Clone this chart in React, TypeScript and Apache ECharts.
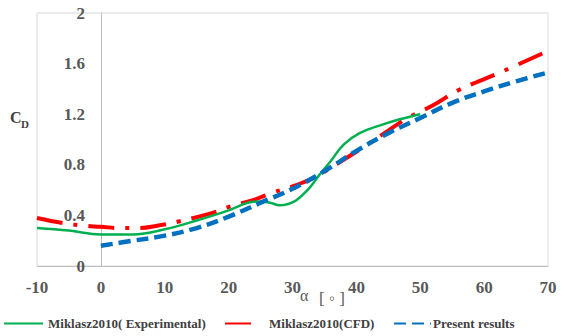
import React, { useEffect, useRef } from "react";
import * as echarts from "echarts";

const seriesNames = ["Miklasz2010( Experimental)", "Miklasz2010(CFD)", "Present results"];

const expAlpha = [-10, -5, 0, 5, 10, 15, 20, 23, 25, 26.5, 28, 29.3, 30.6, 32.7, 34.2, 36, 38, 40.5, 43.6, 46.8, 50];
const expCd = [0.30, 0.28, 0.25, 0.25, 0.29, 0.36, 0.44, 0.50, 0.51, 0.50, 0.48, 0.49, 0.52, 0.62, 0.72, 0.83, 0.96, 1.05, 1.11, 1.16, 1.20];

const cfdAlpha = [-10, -6, -3, 0, 3, 6, 9, 12, 17.5, 20.2, 23.8, 26.9, 30.6, 33.8, 38, 40.5, 44.7, 48, 52, 56, 62.5, 70];
const cfdCd = [0.38, 0.34, 0.32, 0.31, 0.30, 0.30, 0.32, 0.35, 0.42, 0.47, 0.52, 0.58, 0.64, 0.71, 0.84, 0.92, 1.06, 1.17, 1.27, 1.39, 1.53, 1.70];

const presAlpha = [0, 5, 10, 15, 20, 25, 30, 35, 40, 45, 50, 55, 60, 65, 70];
const presCd = [0.16, 0.20, 0.24, 0.30, 0.39, 0.50, 0.61, 0.75, 0.91, 1.05, 1.17, 1.29, 1.38, 1.46, 1.53];

const xTicks = { min: -10, max: 70, interval: 10 };
const yTicks = { min: 0, max: 2, interval: 0.4 };

const zip = (xs: number[], ys: number[]) => xs.map((x, i) => [x, ys[i]]);

export default function App() {
  const ref = useRef<HTMLDivElement>(null);
  useEffect(() => {
    if (!ref.current) return;
    const chart = echarts.init(ref.current, null, { renderer: "svg" });
    const serif = "'Liberation Serif', 'Times New Roman', serif";
    const legendText = { fontFamily: serif, fontWeight: "bold" as const, fontSize: 13, color: "#404040" };
    const legendBase = {
      top: 317,
      itemHeight: 14,
      itemGap: 0,
      padding: 0,
      itemStyle: { opacity: 0 },
    };
    chart.setOption({
      animation: false,
      backgroundColor: "#ffffff",
      grid: {
        left: 37,
        right: 18,
        top: 13,
        bottom: 70,
        show: true,
        borderColor: "#d9d9d9",
        borderWidth: 1,
        backgroundColor: "transparent",
      },
      xAxis: {
        type: "value",
        min: xTicks.min,
        max: xTicks.max,
        interval: xTicks.interval,
        axisLine: { show: true, onZero: true, lineStyle: { color: "#bfbfbf", width: 1 } },
        axisTick: { show: false },
        splitLine: { show: false },
        axisLabel: { fontFamily: serif, fontWeight: "bold", fontSize: 17, color: "#595959", margin: 13 },
      },
      yAxis: {
        type: "value",
        min: yTicks.min,
        max: yTicks.max,
        interval: yTicks.interval,
        axisLine: { show: true, onZero: true, lineStyle: { color: "#bfbfbf", width: 1 } },
        axisTick: { show: false },
        splitLine: { show: false },
        axisLabel: { fontFamily: serif, fontWeight: "bold", fontSize: 17, color: "#595959", margin: -48 },
      },
      legend: [
        {
          ...legendBase,
          data: [seriesNames[0]],
          left: 3,
          itemWidth: 39,
          textStyle: legendText,
        },
        {
          ...legendBase,
          data: [seriesNames[1]],
          left: 224,
          itemWidth: 28,
          textStyle: { ...legendText, padding: [0, 0, 0, 11] },
        },
        {
          ...legendBase,
          data: [seriesNames[2]],
          left: 393,
          itemWidth: 37,
          textStyle: { ...legendText, padding: [0, 0, 0, -3] },
        },
      ],
      graphic: [
        {
          type: "text",
          left: 10,
          top: 109,
          style: { text: "C", font: "bold 16px " + serif, fill: "#404040" },
        },
        {
          type: "text",
          left: 21,
          top: 118,
          style: { text: "D", font: "bold 11px " + serif, fill: "#404040" },
        },
        {
          type: "text",
          left: 300,
          top: 287,
          style: { text: "α", font: "16px " + serif, fill: "#595959" },
        },
        {
          type: "text",
          left: 319,
          top: 290,
          style: { text: "[ ◦ ]", font: "17px " + serif, fill: "#595959" },
        },
      ],
      series: [
        {
          name: seriesNames[0],
          type: "line",
          data: zip(expAlpha, expCd),
          smooth: 0.4,
          symbol: "none",
          color: "#00b050",
          lineStyle: { color: "#00b050", width: 2.5 },
          z: 3,
        },
        {
          name: seriesNames[1],
          type: "line",
          data: zip(cfdAlpha, cfdCd),
          smooth: 0.4,
          symbol: "none",
          color: "#ff0000",
          lineStyle: { color: "#ff0000", width: 4, type: [26, 11, 4, 11] },
          z: 2,
        },
        {
          name: seriesNames[2],
          type: "line",
          data: zip(presAlpha, presCd),
          smooth: 0.4,
          symbol: "none",
          color: "#0070c0",
          lineStyle: { color: "#0070c0", width: 4.5, type: [12, 6] },
          z: 4,
        },
      ],
    });
    return () => chart.dispose();
  }, []);
  return <div ref={ref} style={{ width: 566, height: 336, position: "absolute", left: 0, top: 0 }} />;
}
